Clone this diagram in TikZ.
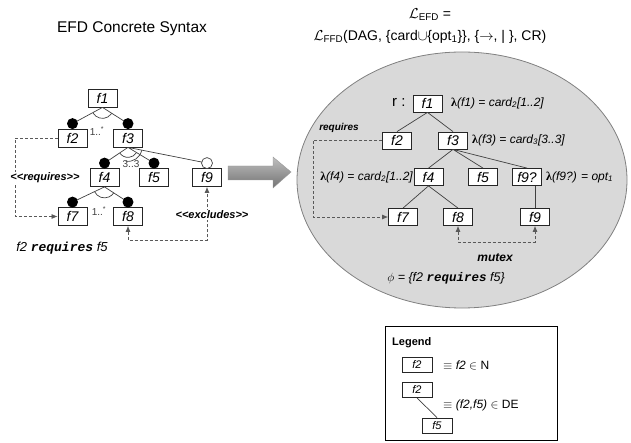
\documentclass[tikz,border=0pt]{standalone}
\usepackage{fontspec}
\setmainfont{Liberation Sans}
\newfontfamily\monob{Liberation Mono}
\newfontfamily\lamfont{Liberation Serif}
\usetikzlibrary{arrows.meta,calc}
\newcommand\fs[1]{\fontsize{#1}{#1}\selectfont}
\newcommand\lam{{\lamfont\bfseries\upshape λ}}
\newcommand\req{{\monob\bfseries\itshape requires}}
\newcommand\dblopen{<\kern0pt<}
\newcommand\dblclose{>\kern0pt>}
\begin{document}
\begin{tikzpicture}[x=1pt,y=-1pt,
  lbox/.style={draw=black!85, line width=0.8pt, fill=white, minimum width=29pt, minimum height=18pt, inner sep=0pt, font=\fs{14}\itshape},
  rbox/.style={draw=black!85, line width=0.8pt, fill=white, minimum width=29pt, minimum height=17pt, inner sep=0pt, font=\fs{14}\itshape},
  gbox/.style={draw=black!85, line width=0.7pt, fill=white, minimum width=30pt, minimum height=15pt, inner sep=0pt, font=\fs{11}\itshape},
  edge/.style={draw=black!75, line width=0.7pt},
  dep/.style={draw=black!65, densely dashed, line width=0.7pt},
  tip/.style={-{Latex[length=6pt,width=5pt]}},
  lab/.style={inner sep=1pt, font=\fs{12}\itshape},
  card/.style={inner sep=0pt, text=black!75, font=\fs{10}},
]
\useasboundingbox (0,0) rectangle (631,443);

% ---------------- left: concrete syntax ----------------
\node[font=\fs{15.5}] (title) at (132,29) {EFD Concrete Syntax};

\node[lbox] (f1) at (102.5,98) {f1};
\node[lbox] (f2) at (72.5,138) {f2};
\node[lbox] (f3) at (128,138) {f3};
\node[lbox] (f4) at (104.5,177.5) {f4};
\node[lbox] (f5) at (154,177.5) {f5};
\node[lbox] (f9) at (207,177.5) {f9};
\node[lbox] (f7) at (72.5,216.5) {f7};
\node[lbox] (f8) at (128,216.5) {f8};

\coordinate (c2) at ($(f2.north)+(0,-5)$);
\coordinate (c3) at ($(f3.north)+(0,-5)$);
\coordinate (c4) at ($(f4.north)+(0,-5)$);
\coordinate (c5) at ($(f5.north)+(0,-5)$);
\coordinate (c9) at ($(f9.north)+(0,-5)$);
\coordinate (c7) at ($(f7.north)+(0,-5)$);
\coordinate (c8) at ($(f8.north)+(0,-5)$);

\draw[edge] (f1.south) -- (c2) (f1.south) -- (c3);
\draw[edge] (f3.south) -- (c4) (f3.south) -- (c5) (f3.south) -- (c9);
\draw[edge] (f4.south) -- (c7) (f4.south) -- (c8);

\draw[edge] ($(f1.south)+(150.4:11)$) arc[start angle=150.4, end angle=33.7, radius=11];
\draw[edge] ($(f3.south)+(144.9:10)$) arc[start angle=144.9, end angle=32.4, radius=10];
\draw[edge] ($(f3.south)+(100:14)$) arc[start angle=100, end angle=11.8, radius=14];
\draw[edge] ($(f4.south)+(154.9:11)$) arc[start angle=154.9, end angle=32.6, radius=11];

\foreach \c in {c2,c3,c4,c5,c7,c8} \fill[black] (\c) circle (5.5pt);
\draw[edge, fill=white] (c9) circle (5.5pt);

\node[card] (m1) at (97,131) {1..\textsuperscript{*}};
\node[card] (m2) at (131,164.5) {3..3};
\node[card] (m3) at (99,211) {1..\textsuperscript{*}};

\coordinate (rq) at (15,216.5);
\draw[dep, tip] (f2.west) -| (rq) -- (f7.west);
\node[fill=white, inner sep=1pt, font=\fs{11}\bfseries\itshape] (rqlab) at (45,178) {\dblopen requires\dblclose};

\coordinate (ex) at (207,240);
\draw[dep, {Latex[length=6pt,width=5pt]}-{Latex[length=6pt,width=5pt]}] (f8.south) |- (ex) -- (f9.south);
\node[fill=white, inner sep=1pt, font=\fs{11}\bfseries\itshape] (exlab) at (212,215) {\dblopen excludes\dblclose};

\node[font=\fs{13}] (cons) at (62,248) {\textit{f2} \req{} \textit{f5}};

% ---------------- arrow ----------------
\shade[top color=black!25, bottom color=black!55, draw=black!40, line width=0.4pt]
  (228,166) -- (273,166) -- (273,157) -- (291,172) -- (273,188) -- (273,180) -- (228,180) -- cycle;

% ---------------- right: abstract syntax ----------------
\node[font=\fs{14}] (lefd) at (430,15) {$\mathcal{L}$\textsubscript{EFD} =};
\node[font=\fs{14}] (lffd) at (430,37) {$\mathcal{L}$\textsubscript{FFD}(DAG, \{card$\cup$\{opt\textsubscript{1}\}\}, \{$\rightarrow$, | \}, CR)};

\draw[draw=black!50, fill=black!15, line width=0.8pt] (462,180) ellipse [x radius=165, y radius=128];

\node[rbox] (g1) at (427.5,103.5) {f1};
\node[rbox] (g2) at (397,140.5) {f2};
\node[rbox] (g3) at (453,140.5) {f3};
\node[rbox] (g4) at (428.5,177) {f4};
\node[rbox] (g5) at (483,177) {f5};
\node[rbox] (g9q) at (527,177) {f9?};
\node[rbox] (g7) at (403,217) {f7};
\node[rbox] (g8) at (458,217) {f8};
\node[rbox] (g9) at (535,217) {f9};

\draw[edge] (g1.south) -- (g2.north) (g1.south) -- (g3.north);
\draw[edge] (g3.south) -- (g4.north) (g3.south) -- (g5.north) (g3.south) -- (g9q.north);
\draw[edge] (g4.south) -- (g7.north) (g4.south) -- (g8.north);
\draw[edge] (g9.north) -- (g9.north |- g9q.south);

\node[font=\fs{15}, anchor=east] (rlab) at (409,102) {r :};
\node[lab, anchor=west] (l1) at (450,103) {\lam(f1) = card\textsubscript{2}[1..2]};
\node[lab, anchor=west] (l3) at (471,140) {\lam(f3) = card\textsubscript{3}[3..3]};
\node[lab, anchor=east] (l4) at (414,177) {\lam(f4) = card\textsubscript{2}[1..2]};
\node[lab, anchor=west] (l9) at (545,177) {\lam(f9?) = opt\textsubscript{1}};

\coordinate (rr2) at (313,217);
\draw[dep, tip] (g2.west) -| (rr2) -- (g7.west);
\node[font=\fs{10}\bfseries\itshape] (rqlab2) at (339,128) {requires};

\coordinate (mx) at (535,242);
\draw[dep, {Latex[length=6pt,width=5pt]}-{Latex[length=6pt,width=5pt]}] (g8.south) |- (mx) -- (g9.south);
\node[font=\fs{12}\bfseries\itshape] (mxlab) at (495,258) {mutex};

\node[font=\fs{12.5}\itshape] (phi) at (446,278) {$\phi$ = \{f2 \req{} f5\}};

% ---------------- legend ----------------
\draw[line width=1pt] (385,326) rectangle (557,440);
\node[font=\fs{11}\bfseries, anchor=west, inner sep=0pt] (leg) at (392,343) {Legend};
\node[gbox] (h1) at (417,364.5) {f2};
\node[gbox] (h2) at (417,390) {f2};
\node[gbox] (h3) at (437,425.5) {f5};
\draw[edge] (h2.south) -- (h3.north);
\node[font=\fs{12}, anchor=west, inner sep=0pt] (e1) at (443,365) {$\equiv$ \textit{f2} $\in$ N};
\node[font=\fs{12}, anchor=west, inner sep=0pt] (e2) at (443,405) {$\equiv$ \textit{(f2,f5)} $\in$ DE};
\end{tikzpicture}
\end{document}
